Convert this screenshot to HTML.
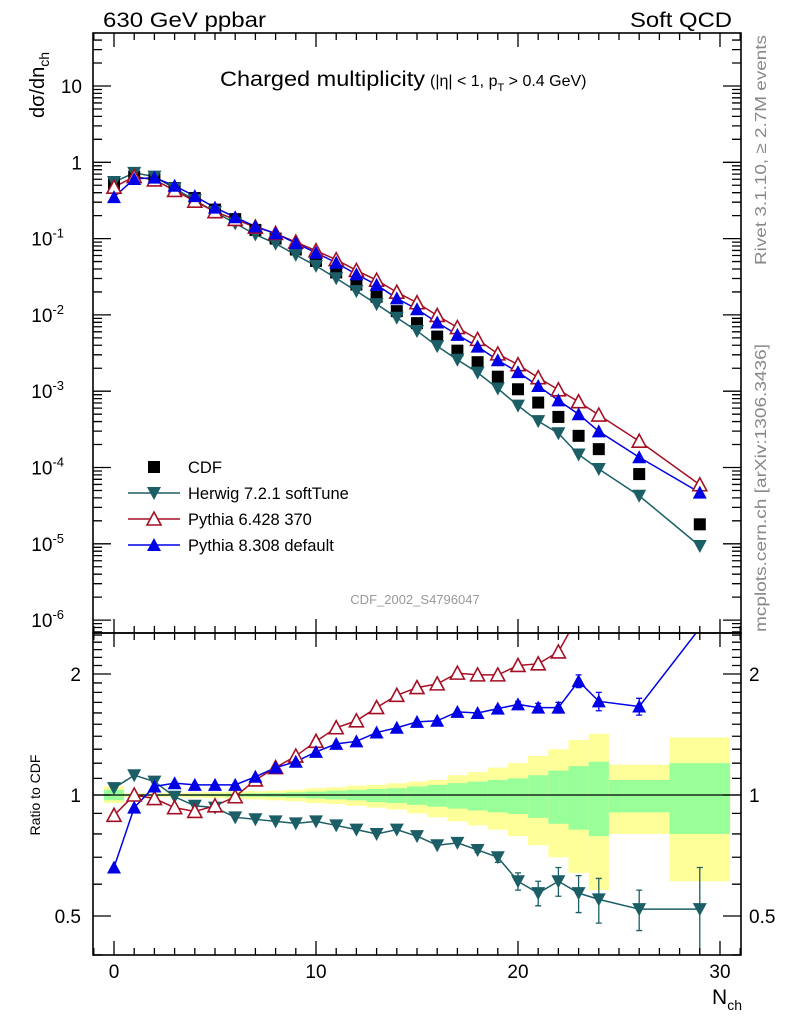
<!DOCTYPE html>
<html><head><meta charset="utf-8">
<style>
body{margin:0;background:#fff;}
svg{display:block;font-family:"Liberation Sans",Arial,sans-serif;}
</style></head>
<body>
<svg id="c" width="786" height="1024" viewBox="0 0 786 1024" xmlns="http://www.w3.org/2000/svg">
<rect x="0" y="0" width="786" height="1024" fill="#fff"/>
<text x="103" y="27" font-size="21" textLength="163" lengthAdjust="spacingAndGlyphs">630 GeV ppbar</text>
<text x="630" y="27" font-size="21" textLength="102" lengthAdjust="spacingAndGlyphs">Soft QCD</text>
<text x="220" y="86" font-size="21" textLength="205" lengthAdjust="spacingAndGlyphs">Charged multiplicity</text>
<text x="430" y="86" font-size="16">(|η| &lt; 1, p<tspan font-size="11" dy="5">T</tspan><tspan dy="-5"> &gt; 0.4 GeV)</tspan></text>
<text transform="translate(44,118) rotate(-90)" font-size="20">dσ/dn<tspan font-size="14" dy="5">ch</tspan></text>
<text transform="translate(40,795) rotate(-90)" font-size="14" text-anchor="middle">Ratio to CDF</text>
<text x="742" y="1004" font-size="21" text-anchor="end">N<tspan font-size="14" dy="6">ch</tspan></text>
<text transform="translate(766,265) rotate(-90)" font-size="16" fill="#888" textLength="230" lengthAdjust="spacingAndGlyphs">Rivet 3.1.10, ≥ 2.7M events</text>
<text transform="translate(766,632) rotate(-90)" font-size="16" fill="#888" textLength="288" lengthAdjust="spacingAndGlyphs">mcplots.cern.ch [arXiv:1306.3436]</text>
<text x="415" y="604" font-size="13" fill="#999" text-anchor="middle">CDF_2002_S4796047</text>
<g id="bands"></g><g id="marks"></g><g id="axes"></g><g id="legend"></g>
</svg>
<script>
const nch = [0,1,2,3,4,5,6,7,8,9,10,11,12,13,14,15,16,17,18,19,20,21,22,23,24,26,29];
const binLo = [-0.5,0.5,1.5,2.5,3.5,4.5,5.5,6.5,7.5,8.5,9.5,10.5,11.5,12.5,13.5,14.5,15.5,16.5,17.5,18.5,19.5,20.5,21.5,22.5,23.5,24.5,27.5];
const binHi = [0.5,1.5,2.5,3.5,4.5,5.5,6.5,7.5,8.5,9.5,10.5,11.5,12.5,13.5,14.5,15.5,16.5,17.5,18.5,19.5,20.5,21.5,22.5,23.5,24.5,27.5,30.5];
const cdf = [0.53,0.65,0.60,0.46,0.34,0.24,0.18,0.13,0.10,0.072,0.051,0.036,0.025,0.0173,0.0112,0.0078,0.0052,0.0034,0.0024,0.00155,0.00106,0.00071,0.00046,0.00026,0.000174,0.000082,0.000018];
const herwigRatio = [1.04,1.12,1.08,0.99,0.94,0.93,0.88,0.87,0.86,0.85,0.86,0.84,0.82,0.80,0.82,0.79,0.75,0.76,0.73,0.70,0.61,0.57,0.61,0.57,0.55,0.52,0.52];
const herwigErr = [0,0,0,0,0,0,0,0,0,0,0,0,0,0,0,0,0,0,0.01,0.02,0.03,0.04,0.05,0.06,0.07,0.06,0.14];
const py6Ratio = [0.89,1.00,0.98,0.93,0.91,0.94,0.99,1.09,1.17,1.25,1.36,1.47,1.53,1.65,1.77,1.85,1.89,2.01,1.99,1.99,2.10,2.12,2.27,2.80,2.80,2.70,3.30];
const py8Ratio = [0.66,0.93,1.05,1.07,1.06,1.06,1.06,1.11,1.17,1.21,1.28,1.34,1.36,1.43,1.47,1.52,1.53,1.61,1.60,1.64,1.68,1.65,1.65,1.92,1.71,1.66,2.60];
const py8Err = [0,0,0,0,0,0,0,0,0,0,0,0,0,0,0,0,0,0,0,0.02,0.03,0.04,0.05,0.07,0.09,0.08,0.1];
const yellowUp = [1.05,1.01,1.01,1.012,1.015,1.018,1.02,1.022,1.025,1.03,1.04,1.045,1.055,1.06,1.07,1.08,1.09,1.12,1.14,1.17,1.2,1.25,1.3,1.37,1.42,1.19,1.39];
const yellowDn = [0.955,0.99,0.99,0.988,0.985,0.982,0.98,0.975,0.97,0.965,0.955,0.95,0.94,0.93,0.92,0.9,0.88,0.86,0.84,0.82,0.79,0.75,0.70,0.64,0.58,0.80,0.61];
const greenUp = [1.03,1.005,1.005,1.005,1.006,1.007,1.008,1.01,1.012,1.015,1.02,1.025,1.03,1.035,1.04,1.05,1.06,1.07,1.08,1.09,1.10,1.12,1.15,1.18,1.21,1.09,1.2];
const greenDn = [0.97,0.995,0.995,0.995,0.994,0.993,0.99,0.99,0.988,0.985,0.98,0.975,0.97,0.96,0.955,0.945,0.935,0.925,0.915,0.905,0.897,0.877,0.848,0.82,0.79,0.905,0.80];
const mainTicks = [1,0,-1,-2,-3,-4,-5,-6];
const ratioTicks = [2,1,0.5];
const xTicks = [0,10,20,30];

const NS="http://www.w3.org/2000/svg";
const L=93,R=741,T=33,MB=633,RB=955;
const X=v=>L+(v+1.04)*(R-L)/32.08;
const YM=v=>86+(1-Math.log10(v))*76.3;
const YR=v=>795-Math.log2(v)*121;
function mk(par,tag,at){const e=document.createElementNS(NS,tag);for(const k in at)e.setAttribute(k,at[k]);document.getElementById(par).appendChild(e);return e;}
const clipR=mk('bands','clipPath',{id:'cr'});
const cr=document.createElementNS(NS,'rect');cr.setAttribute('x',L);cr.setAttribute('y',MB);cr.setAttribute('width',R-L);cr.setAttribute('height',RB-MB);clipR.appendChild(cr);
const clipM=mk('bands','clipPath',{id:'cm'});
const cm=document.createElementNS(NS,'rect');cm.setAttribute('x',L);cm.setAttribute('y',T);cm.setAttribute('width',R-L);cm.setAttribute('height',MB-T);clipM.appendChild(cm);

for(let i=0;i<nch.length;i++){
  let r=mk('bands','rect',{x:X(binLo[i]),y:YR(yellowUp[i]),width:X(binHi[i])-X(binLo[i]),height:YR(yellowDn[i])-YR(yellowUp[i]),fill:'#ffff99'});
  
  
  let g=mk('bands','rect',{x:X(binLo[i]),y:YR(greenUp[i]),width:X(binHi[i])-X(binLo[i]),height:YR(greenDn[i])-YR(greenUp[i]),fill:'#99ff99'});
  
  
}
let one=mk('bands','line',{x1:L,x2:R,y1:YR(1),y2:YR(1),stroke:'#000','stroke-width':1.3});



function marker(g,kind,x,y,col){
  if(kind==='sq') return mk(g,'rect',{x:x-6,y:y-6,width:12,height:12,fill:'#000'});
  if(kind==='down') return mk(g,'path',{d:`M${x-7},${y-6}L${x+7},${y-6}L${x},${y+7}Z`,fill:col});
  if(kind==='up') return mk(g,'path',{d:`M${x-7},${y+6}L${x+7},${y+6}L${x},${y-7}Z`,fill:col});
  if(kind==='open') return mk(g,'path',{d:`M${x-7},${y+6}L${x+7},${y+6}L${x},${y-7}Z`,fill:'#fff',stroke:col,'stroke-width':1.6});
}
const series=[
 {name:'herwig',ratio:herwigRatio,err:herwigErr,col:'#1b5e66',kind:'down'},
 {name:'pythia6',ratio:py6Ratio,err:null,col:'#a50f24',kind:'open'},
 {name:'pythia8',ratio:py8Ratio,err:py8Err,col:'#0000e6',kind:'up'}
];
const gm=mk('marks','g',{'clip-path':'url(#cm)'});gm.id='gm';
const gr=mk('marks','g',{'clip-path':'url(#cr)'});gr.id='gr';
for(const s of series){
  let pm=nch.map((n,i)=>`${X(n)},${YM(cdf[i]*s.ratio[i])}`).join(' ');
  let l=mk('gm','polyline',{points:pm,fill:'none',stroke:s.col,'stroke-width':1.5});
  
  
  let pr=nch.map((n,i)=>`${X(n)},${YR(s.ratio[i])}`).join(' ');
  let lr=mk('gr','polyline',{points:pr,fill:'none',stroke:s.col,'stroke-width':1.5});
  
  
}
for(let i=0;i<nch.length;i++){
  let m=marker('gm','sq',X(nch[i]),YM(cdf[i]));
  
  
}
for(const s of series){
  for(let i=0;i<nch.length;i++){
    const yr=YR(s.ratio[i]);
    const inR=yr>MB+2&&yr<RB;
    if(inR&&s.err&&s.err[i]>0){
      const x=X(nch[i]);
      const e=mk('gr','path',{d:`M${x},${YR(s.ratio[i]+s.err[i])}V${YR(Math.max(0.3,s.ratio[i]-s.err[i]))}M${x-3},${YR(s.ratio[i]+s.err[i])}h6M${x-3},${YR(Math.max(0.3,s.ratio[i]-s.err[i]))}h6`,stroke:s.col,'stroke-width':1.3});
      
      
    }
    let a=marker('gm',s.kind,X(nch[i]),YM(cdf[i]*s.ratio[i]),s.col);
    
    
    if(inR){
      let b=marker('gr',s.kind,X(nch[i]),yr,s.col);
      
      
    }
  }
}
for(const [y1,y2,nm] of [[T,MB,'main-frame'],[MB,RB,'ratio-frame']]){
  let f=mk('axes','rect',{x:L,y:y1,width:R-L,height:y2-y1,fill:'none',stroke:'#000','stroke-width':1.6});
  
  
}
let tk='';
for(let v=-1;v<=31;v++){const x=X(v);const len=(v%10===0)?14:7;
  tk+=`M${x},${T}v${len}M${x},${MB}v${-len}M${x},${MB}v${len}M${x},${RB}v${-len}`;}
for(let d=-7;d<=1;d++){for(let k=1;k<10;k++){const v=k*Math.pow(10,d);const y=YM(v);if(y<T||y>MB)continue;const len=k===1?18:9;tk+=`M${L},${y}h${len}M${R},${y}h${-len}`;}}
for(let v=0.4;v<=2.5;v=Math.round((v+0.1)*10)/10){const y=YR(v);if(y<MB||y>RB)continue;const maj=(v===0.5||v===1||v===2);const len=maj?18:9;tk+=`M${L},${y}h${len}M${R},${y}h${-len}`;}
let tp=mk('axes','path',{d:tk,stroke:'#000','stroke-width':1.3,fill:'none'});


for(const v of xTicks){let t=mk('axes','text',{x:X(v),y:978,'font-size':19,'text-anchor':'middle'});t.textContent=v;
  
  }
for(const e of mainTicks){
  const y=YM(Math.pow(10,e));
  let t=mk('axes','text',{x:82,y:y+7,'font-size':19,'text-anchor':'end'});
  
  
  if(e===1)t.textContent='10';else if(e===0)t.textContent='1';
  else{t.textContent='10';const s=document.createElementNS(NS,'tspan');s.setAttribute('font-size','13');s.setAttribute('dy','-8');s.textContent=e;t.appendChild(s);t.setAttribute('x',64);}
}
for(const v of ratioTicks){
  const y=YR(v);
  let t=mk('axes','text',{x:81,y:y+7,'font-size':19,'text-anchor':'end'});t.textContent=v;
  
  
  let t2=mk('axes','text',{x:749,y:y+7,'font-size':19});t2.textContent=v;
  
  
}
const leg=[['CDF','sq','#000',false],['Herwig 7.2.1 softTune','down','#1b5e66',true],['Pythia 6.428 370','open','#a50f24',true],['Pythia 8.308 default','up','#0000e6',true]];
leg.forEach((e,i)=>{
  const y=467+i*26;
  if(e[3]){let l=mk('legend','line',{x1:128,x2:180,y1:y,y2:y,stroke:e[2],'stroke-width':1.5});
    
    }
  let m=marker('legend',e[1],154,y,e[2]);
  
  
  let t=mk('legend','text',{x:188,y:y+6,'font-size':16.5});t.textContent=e[0];
  
  
});
</script>
</body></html>
